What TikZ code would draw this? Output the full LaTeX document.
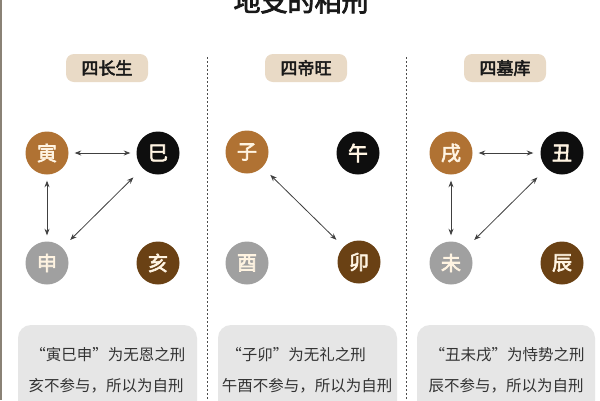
\documentclass[tikz,border=0pt]{standalone}
\usepackage{fontspec}
\newfontfamily\cjk{Noto Sans CJK SC}
\newfontfamily\cjkb{Noto Sans CJK SC}[FakeBold=3]
\usetikzlibrary{arrows.meta}
\definecolor{cbrown}{HTML}{B07233}
\definecolor{cdark}{HTML}{6A4114}
\definecolor{cgray}{HTML}{A0A0A0}
\definecolor{cblack}{HTML}{0E0E0E}
\definecolor{pill}{HTML}{E9DAC6}
\definecolor{boxg}{HTML}{E6E6E6}
\definecolor{txt}{HTML}{333333}
\definecolor{edge}{HTML}{8A8276}
\definecolor{ink}{HTML}{FFF4E2}
\tikzset{
  x=1pt,y=-1pt,
  ball/.style={circle,minimum size=43pt,inner sep=0pt,text=ink,font=\cjkb\fontsize{20}{20}\selectfont},
  pillbox/.style={rounded corners=8pt,fill=pill,minimum width=82pt,minimum height=28pt,inner sep=0pt,font=\cjkb\fontsize{17}{17}\selectfont,text=black!90},
  note/.style={font=\cjk\fontsize{15.5}{15.5}\selectfont,text=txt,inner sep=0pt},
  link/.style={draw=black!75,line width=0.8pt,{Stealth[length=6.5pt,width=5pt]}-{Stealth[length=6.5pt,width=5pt]}},
  sep/.style={draw=black!70,line width=0.9pt,dash pattern=on 2pt off 2pt},
}
\begin{document}
\begin{tikzpicture}
\useasboundingbox (0,0) rectangle (600,400);
\clip (0,0) rectangle (600,400);
\fill[white] (0,0) rectangle (600,400);
\draw[edge,line width=1.6pt] (0.8,0) -- (0.8,400);
% title
\node[font=\cjkb\fontsize{27}{27}\selectfont,text=black!90] (title) at (301,1) {地支的相刑};
% separators
\coordinate (s1a) at (207,57); \coordinate (s1b) at (207,400);
\coordinate (s2a) at (406,57); \coordinate (s2b) at (406,400);
\draw[sep] (s1a) -- (s1b);
\draw[sep] (s2a) -- (s2b);
% pills
\node[pillbox] (p1) at (107,68) {四长生};
\node[pillbox] (p2) at (306,68) {四帝旺};
\node[pillbox] (p3) at (505,68) {四墓库};
% panel 1
\node[ball,fill=cbrown] (yin) at (47,153) {寅};
\node[ball,fill=cblack] (si) at (158,153) {巳};
\node[ball,fill=cgray] (shen) at (47,263) {申};
\node[ball,fill=cdark] (hai) at (158,263) {亥};
\draw[link,shorten <=6pt,shorten >=6pt] (yin) -- (si);
\draw[link,shorten <=6pt,shorten >=6pt] (yin) -- (shen);
\draw[link,shorten <=13pt,shorten >=11pt] (si) -- (shen);
% panel 2
\node[ball,fill=cbrown] (zi) at (247,152) {子};
\node[ball,fill=cblack] (wu) at (358,153) {午};
\node[ball,fill=cgray] (you) at (247,263) {酉};
\node[ball,fill=cdark] (mao) at (359,262) {卯};
\draw[link,shorten <=11pt,shorten >=10pt] (zi) -- (mao);
% panel 3
\node[ball,fill=cbrown] (xu) at (451,153) {戌};
\node[ball,fill=cblack] (chou) at (562,153) {丑};
\node[ball,fill=cgray] (wei) at (451,263) {未};
\node[ball,fill=cdark] (chen) at (562,263) {辰};
\draw[link,shorten <=6pt,shorten >=7pt] (xu) -- (chou);
\draw[link,shorten <=6pt,shorten >=6pt] (xu) -- (wei);
\draw[link,shorten <=13pt,shorten >=11pt] (chou) -- (wei);
% boxes
\fill[boxg,rounded corners=13pt] (18,325) rectangle (197,430);
\fill[boxg,rounded corners=13pt] (218,325) rectangle (397,430);
\fill[boxg,rounded corners=13pt] (417,325) rectangle (595,430);
\node[note] (t1a) at (108,355) {“寅巳申”为无恩之刑};
\node[note] (t1b) at (106,386) {亥不参与，所以为自刑};
\node[note] (t2a) at (296,355) {“子卯”为无礼之刑};
\node[note] (t2b) at (307,386) {午酉不参与，所以为自刑};
\node[note] (t3a) at (507,355) {“丑未戌”为恃势之刑};
\node[note] (t3b) at (506,386) {辰不参与，所以为自刑};
\end{tikzpicture}
\end{document}
